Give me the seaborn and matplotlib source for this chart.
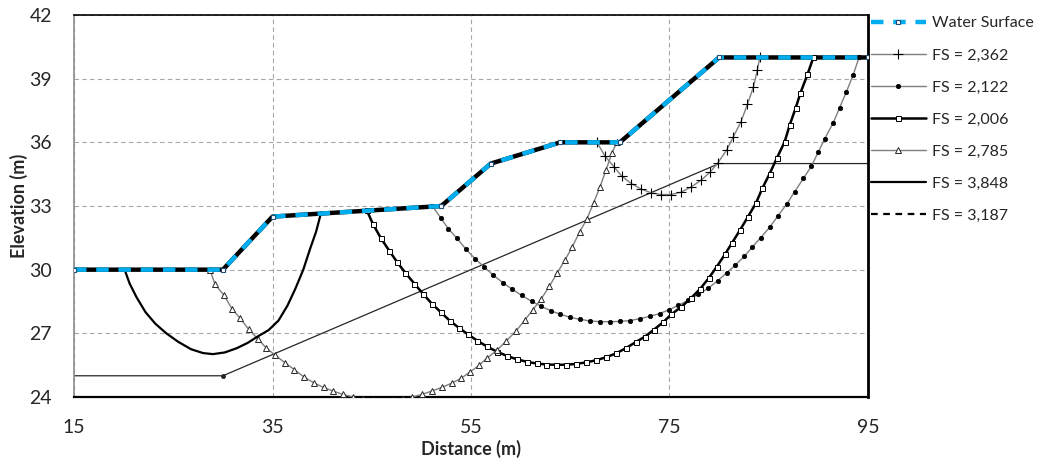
import numpy as np
import pandas as pd
import seaborn as sns
import matplotlib.pyplot as plt

# -----------------------------
# Slope stability: ground profile, water surface and slip circles
# -----------------------------

ground_x = [15, 30, 35, 52, 57, 64, 70, 80, 95]
ground_y = [30, 30, 32.5, 33, 35, 36, 36, 40, 40]

water_x = [15, 30, 35, 52, 57, 64, 70, 80, 95]
water_y = [30, 30, 32.5, 33, 35, 36, 36, 40, 40]

layer_x = [15, 30, 80, 95]
layer_y = [25, 25, 35, 35]

fs2362_x = [67.7, 68.5, 69.4, 70.2, 71.15, 72.15, 73.15, 74.15, 75.15, 76.15, 77.2,
            78.2, 79.1, 79.9, 80.75, 81.4, 82.2, 82.85, 83.45, 83.85, 84.1]
fs2362_y = [36.0, 35.35, 34.85, 34.4, 34.06, 33.8, 33.62, 33.54, 33.54, 33.65, 33.9,
            34.22, 34.6, 35.05, 35.63, 36.23, 36.97, 37.79, 38.6, 39.4, 40.0]

fs2122_x = [51.1, 51.95, 52.7, 53.6, 54.5, 55.4, 56.3, 57.25, 58.2, 59.15, 60.1, 61.1,
            62.1, 63.1, 64.0, 65.0, 66.0, 67.0, 68.0, 69.0, 70.0, 71.0, 72.0, 73.0,
            74.0, 74.9, 75.9, 76.9, 77.85, 78.9, 79.85, 80.75, 81.6, 82.55, 83.35,
            84.2, 85.1, 85.95, 86.8, 87.6, 88.5, 89.3, 90.0, 90.65, 91.5, 92.15,
            92.8, 93.5, 94.1]
fs2122_y = [33.0, 32.44, 31.94, 31.47, 30.96, 30.52, 30.14, 29.74, 29.39, 29.08, 28.79,
            28.51, 28.27, 28.05, 27.9, 27.75, 27.66, 27.58, 27.55, 27.55, 27.56, 27.6,
            27.69, 27.8, 27.93, 28.1, 28.32, 28.56, 28.83, 29.12, 29.48, 29.84, 30.2,
            30.63, 31.07, 31.51, 32.0, 32.55, 33.08, 33.67, 34.3, 34.88, 35.55, 36.18,
            36.92, 37.64, 38.35, 39.17, 40.0]

fs2006_x = [44.5, 45.1, 45.9, 46.75, 47.55, 48.4, 49.3, 50.15, 51.05, 51.95, 52.85,
            53.75, 54.7, 55.65, 56.6, 57.6, 58.6, 59.6, 60.6, 61.6, 62.6, 63.6, 64.6,
            65.6, 66.6, 67.6, 68.6, 69.6, 70.6, 71.65, 72.55, 73.45, 74.35, 75.2, 76.2,
            77.15, 78.1, 78.95, 79.75, 80.6, 81.3, 82.1, 82.9, 83.7, 84.35, 85.1, 85.8,
            86.6, 87.1, 87.7, 88.2, 88.9, 89.5]
fs2006_y = [32.8, 32.17, 31.5, 30.9, 30.36, 29.84, 29.34, 28.87, 28.4, 28.0, 27.6,
            27.27, 26.95, 26.65, 26.38, 26.14, 25.94, 25.78, 25.66, 25.58, 25.53, 25.52,
            25.52, 25.56, 25.63, 25.73, 25.87, 26.05, 26.3, 26.6, 26.85, 27.18, 27.52,
            27.9, 28.25, 28.65, 29.1, 29.6, 30.13, 30.73, 31.26, 31.86, 32.49, 33.12,
            33.83, 34.53, 35.24, 36.02, 36.8, 37.6, 38.33, 39.2, 40.0]

fs2785_x = [28.7, 29.2, 30.1, 30.9, 31.75, 32.6, 33.5, 34.35, 35.3, 36.3, 37.2, 38.15,
            39.15, 40.15, 41.1, 42.1, 43.1, 44.1, 45.1, 46.1, 47.1, 48.1, 49.1, 50.05,
            51.05, 52.05, 53.05, 54.0, 54.9, 55.8, 56.65, 57.6, 58.55, 59.5, 60.4,
            61.25, 62.1, 62.9, 63.65, 64.45, 65.2, 65.95, 66.7, 67.35, 68.0, 68.6,
            69.2, 69.7]
fs2785_y = [30.0, 29.31, 28.8, 28.17, 27.7, 27.19, 26.75, 26.32, 25.96, 25.6, 25.29,
            24.95, 24.67, 24.45, 24.28, 24.12, 24.0, 23.9, 23.84, 23.82, 23.84, 23.9,
            24.0, 24.12, 24.28, 24.45, 24.65, 24.88, 25.18, 25.49, 25.85, 26.2, 26.64,
            27.09, 27.61, 28.12, 28.64, 29.22, 29.82, 30.44, 31.07, 31.78, 32.41,
            33.15, 33.9, 34.69, 35.5, 36.0]

fs3848_x = [20.1, 20.6, 21.3, 22.2, 23.2, 24.3, 25.5, 26.8, 28.0, 29.0, 30.2, 31.4,
            32.5, 33.5, 34.6, 35.6, 36.5, 37.3, 38.1, 38.8, 39.4, 39.9]
fs3848_y = [30.0, 29.35, 28.7, 28.0, 27.45, 27.0, 26.6, 26.25, 26.07, 26.02, 26.1, 26.3,
            26.55, 26.85, 27.15, 27.6, 28.3, 29.1, 30.0, 31.0, 31.8, 32.7]

fs3187_x = []
fs3187_y = []

x_ticks = [15, 35, 55, 75, 95]
y_ticks = [24, 27, 30, 33, 36, 39, 42]

CYAN = '#00AEEF'
GREY = '#7F7F7F'


def draw(ax):
    # ground profile underneath the water surface
    sns.lineplot(x=ground_x, y=ground_y, ax=ax, sort=False, estimator=None,
                 color='black', lw=3.2, label='_nolegend_', zorder=3)
    sns.lineplot(x=layer_x, y=layer_y, ax=ax, sort=False, estimator=None,
                 color='#262626', lw=0.9, marker='o', ms=3, mec='#262626', mew=0.5,
                 markevery=[1], label='_nolegend_', zorder=2)

    sns.lineplot(x=water_x, y=water_y, ax=ax, sort=False, estimator=None,
                 color=CYAN, lw=3.2, linestyle=(0, (2.8, 2.2)),
                 marker='s', ms=3.2, mfc='white', mec='#1F4E79', mew=0.8,
                 label='Water Surface', zorder=6)
    sns.lineplot(x=fs2362_x, y=fs2362_y, ax=ax, sort=False, estimator=None,
                 color=GREY, lw=1.0, marker='+', ms=6.5, mec='black', mew=0.8,
                 label='FS = 2,362', zorder=4)
    sns.lineplot(x=fs2122_x, y=fs2122_y, ax=ax, sort=False, estimator=None,
                 color=GREY, lw=1.0, marker='o', ms=3.2, mfc='black', mec='black', mew=0.5,
                 label='FS = 2,122', zorder=4)
    sns.lineplot(x=fs2006_x, y=fs2006_y, ax=ax, sort=False, estimator=None,
                 color='black', lw=1.8, marker='s', ms=3.6, mfc='white', mec='black', mew=0.7,
                 label='FS = 2,006', zorder=4)
    sns.lineplot(x=fs2785_x, y=fs2785_y, ax=ax, sort=False, estimator=None,
                 color=GREY, lw=1.0, marker='^', ms=4.2, mfc='white', mec='#262626', mew=0.7,
                 label='FS = 2,785', zorder=4)
    sns.lineplot(x=fs3848_x, y=fs3848_y, ax=ax, sort=False, estimator=None,
                 color='black', lw=1.6, label='FS = 3,848', zorder=4)
    ax.plot(fs3187_x, fs3187_y, color='black', lw=1.6, linestyle=(0, (3, 2.5)),
            label='FS = 3,187')


def main():
    sns.set_theme(style='white')
    plt.rcParams['font.family'] = ['Lato', 'DejaVu Sans']

    fig = plt.figure(figsize=(10.41, 4.62), dpi=100)
    ax = fig.add_axes([0.0711, 0.1407, 0.7627, 0.8268])

    draw(ax)

    ax.set_xlim(15, 95)
    ax.set_ylim(24, 42)
    ax.set_xticks(x_ticks)
    ax.set_yticks(y_ticks)
    ax.tick_params(axis='both', length=0, labelsize=14, colors='#262626')
    ax.tick_params(axis='x', pad=16)
    ax.tick_params(axis='y', pad=16)
    ax.grid(True, color='#A6A6A6', lw=0.8, linestyle=(0, (4, 3)))
    ax.set_axisbelow(True)

    ax.spines['top'].set_color('black')
    ax.spines['top'].set_linewidth(1.2)
    ax.spines['left'].set_color('#8C8C8C')
    ax.spines['left'].set_linewidth(1.2)
    ax.spines['bottom'].set_color('black')
    ax.spines['bottom'].set_linewidth(1.6)
    ax.spines['right'].set_color('black')
    ax.spines['right'].set_linewidth(2.0)

    ax.set_xlabel('Distance (m)', fontsize=13, fontweight='bold', color='#262626', labelpad=3)
    ax.set_ylabel('Elevation (m)', fontsize=13, fontweight='bold', color='#262626', labelpad=1)

    ax.legend(loc='upper left', bbox_to_anchor=(0.837, 0.965), bbox_transform=fig.transFigure,
              frameon=False, fontsize=11.5, handlelength=3.4, handletextpad=0.4,
              labelspacing=1.12, borderaxespad=0, borderpad=0)

    fig.savefig('out.png', dpi=100)
    plt.close(fig)


if __name__ == '__main__':
    main()
